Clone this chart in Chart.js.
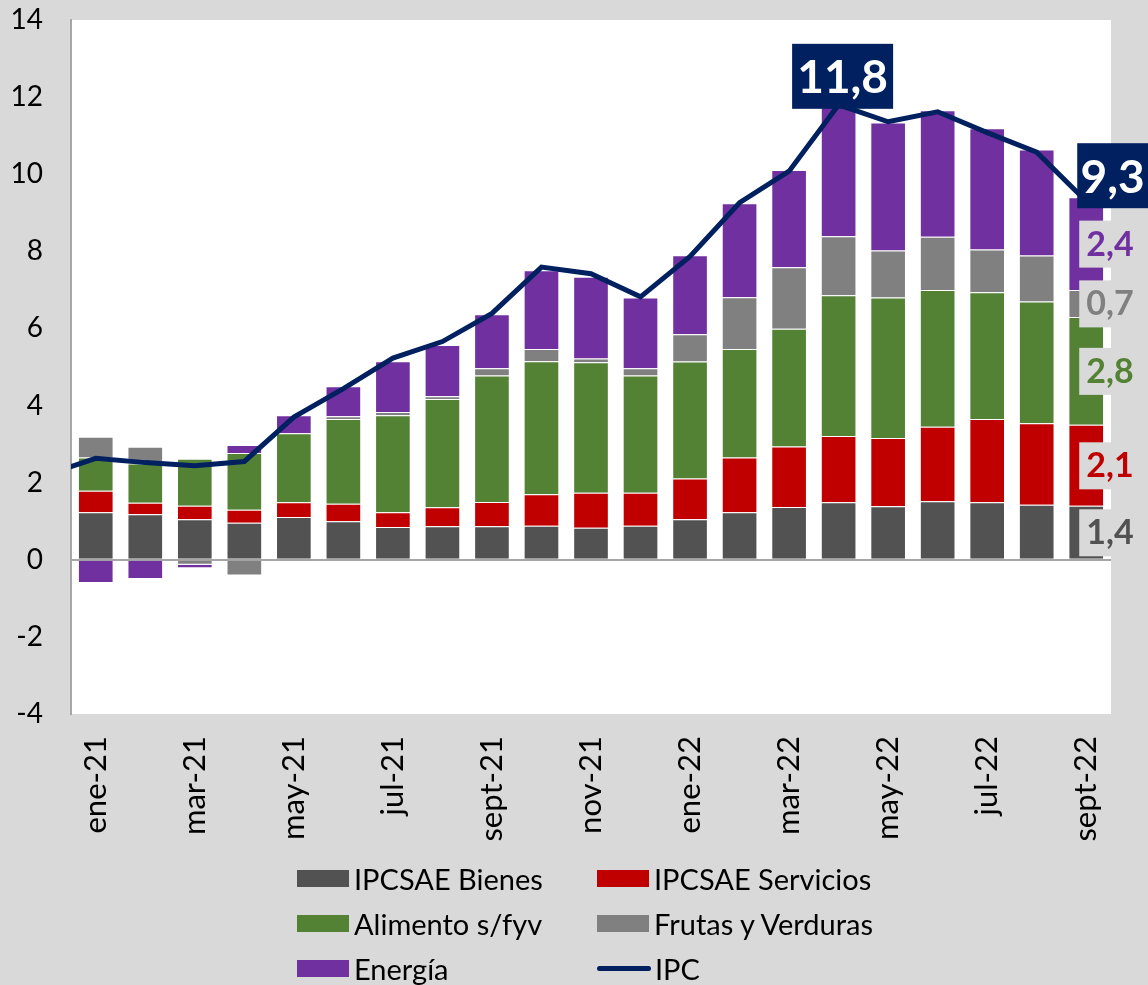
<!DOCTYPE html>
<html>
<head>
<meta charset="utf-8">
<script src="https://cdn.jsdelivr.net/npm/chart.js@4.4.0/dist/chart.umd.min.js"></script>
<style>
  html, body { margin: 0; padding: 0; background: #d9d9d9; }
  #wrap { position: relative; width: 1148px; height: 985px; overflow: hidden; }
  #grafico { position: absolute; left: 0; top: 0; }
  #leyenda {
    position: absolute; left: 297px; top: 856px;
    display: grid; grid-template-columns: 300px 300px; grid-auto-rows: 45px;
    font-family: Lato, "Open Sans", sans-serif; font-size: 29px; color: #000;
  }
  .item { display: flex; align-items: center; white-space: nowrap; }
  .sw { width: 52px; height: 17px; margin-right: 5px; }
  .ln { width: 54px; height: 5px; border-radius: 3px; margin-right: 4px; }
</style>
</head>
<body>
<div id="wrap">
  <canvas id="grafico" width="1148" height="985"></canvas>
  <div id="leyenda"></div>
</div>
<script>
// meses de las barras
const meses = ['ene-21', 'feb-21', 'mar-21', 'abr-21', 'may-21', 'jun-21', 'jul-21', 'ago-21', 'sept-21', 'oct-21', 'nov-21', 'dic-21',
  'ene-22', 'feb-22', 'mar-22', 'abr-22', 'may-22', 'jun-22', 'jul-22', 'ago-22', 'sept-22'];

// incidencias (pp)
const bienes = [1.23, 1.18, 1.05, 0.96, 1.11, 1.00, 0.85, 0.87, 0.87, 0.88, 0.83, 0.88, 1.05, 1.23, 1.37, 1.49, 1.39, 1.52, 1.49, 1.43, 1.4];
const servicios = [0.56, 0.30, 0.35, 0.34, 0.38, 0.45, 0.38, 0.49, 0.63, 0.82, 0.91, 0.86, 1.06, 1.42, 1.57, 1.72, 1.77, 1.93, 2.16, 2.11, 2.1];
const alimentos = [0.86, 1.02, 1.22, 1.47, 1.79, 2.20, 2.52, 2.81, 3.28, 3.45, 3.38, 3.04, 3.03, 2.82, 3.05, 3.65, 3.64, 3.55, 3.29, 3.16, 2.8];
const frutas = [0.54, 0.43, -0.13, -0.41, -0.04, 0.07, 0.08, 0.07, 0.19, 0.32, 0.10, 0.19, 0.71, 1.34, 1.60, 1.53, 1.22, 1.38, 1.11, 1.19, 0.7];
const energia = [-0.60, -0.50, -0.09, 0.21, 0.47, 0.78, 1.32, 1.33, 1.40, 2.04, 2.12, 1.83, 2.05, 2.44, 2.52, 3.41, 3.32, 3.28, 3.14, 2.75, 2.4];

// IPC interanual, empieza en dic-20 (queda justo fuera del borde izquierdo)
const ipcMeses = ['dic-20'].concat(meses);
const ipc = [2.2, 2.63, 2.52, 2.44, 2.55, 3.70, 4.44, 5.23, 5.66, 6.39, 7.59, 7.42, 6.82, 7.87, 9.26, 10.08, 11.8, 11.36, 11.62, 11.08, 10.57, 9.3];

// puntos del IPC con recuadro
const ipcDestacados = ['abr-22', 'sept-22'];

const yTicks = { min: -4, max: 14, paso: 2 };

const fuente = 'Lato, "Open Sans", sans-serif';
const fmt = v => v.toFixed(1).replace('.', ',');

const fondoPlot = {
  id: 'fondoPlot',
  beforeDraw(chart) {
    const a = chart.chartArea;
    const ctx = chart.ctx;
    ctx.save();
    ctx.fillStyle = '#ffffff';
    ctx.fillRect(a.left, a.top, a.right - a.left, a.bottom - a.top);
    ctx.restore();
  }
};

const etiquetas = {
  id: 'etiquetas',
  afterDatasetsDraw(chart) {
    const ctx = chart.ctx;
    ctx.save();
    const ult = meses.length - 1;
    // valores de la ultima barra
    chart.data.datasets.forEach((ds, i) => {
      if (ds.type === 'line') return;
      const el = chart.getDatasetMeta(i).data[ult];
      const yc = (el.y + el.base) / 2;
      ctx.fillStyle = '#d9d9d9';
      ctx.fillRect(el.x - 7, yc - 23, chart.width - el.x + 7, 47);
      ctx.fillStyle = ds.backgroundColor;
      ctx.font = 'bold 34px ' + fuente;
      ctx.textAlign = 'left';
      ctx.textBaseline = 'middle';
      ctx.fillText(fmt(ds.data[ult]), el.x, yc + 1);
    });

    // recuadros del IPC
    const li = chart.data.datasets.findIndex(d => d.type === 'line');
    const meta = chart.getDatasetMeta(li);
    ipcDestacados.forEach(m => {
      const k = ipcMeses.indexOf(m);
      const p = meta.data[k];
      let x0, y0, w, h = 65;
      if (k === ipcMeses.length - 1) {
        x0 = p.x - 9; w = chart.width - x0; y0 = p.y + 7 - h;
      } else {
        w = 101; x0 = p.x + 4 - w / 2; y0 = p.y + 4 - h;
      }
      ctx.fillStyle = '#002060';
      ctx.fillRect(x0, y0, w, h);
      ctx.fillStyle = '#ffffff';
      ctx.font = 'bold 46px ' + fuente;
      ctx.textAlign = 'center';
      ctx.textBaseline = 'middle';
      ctx.fillText(fmt(ipc[k]), x0 + w / 2, y0 + h / 2 + 2);
    });
    ctx.restore();
  }
};

const barra = (label, data, color) => ({
  type: 'bar',
  label: label,
  data: data,
  backgroundColor: color,
  borderColor: 'rgba(255,255,255,0.35)',
  borderWidth: 1,
  grouped: false,
  barPercentage: 0.72,
  categoryPercentage: 1,
  order: 1
});

const ctx = document.getElementById('grafico').getContext('2d');
const grafico = new Chart(ctx, {
  data: {
    labels: meses,
    datasets: [
      barra('IPCSAE Bienes', bienes, '#525252'),
      barra('IPCSAE Servicios', servicios, '#c00000'),
      barra('Alimento s/fyv', alimentos, '#548235'),
      barra('Frutas y Verduras', frutas, '#808080'),
      barra('Energía', energia, '#7030a0'),
      {
        type: 'line',
        label: 'IPC',
        data: ipc.map((v, i) => ({ x: i - 1, y: v })),
        xAxisID: 'xl',
        borderColor: '#002060',
        backgroundColor: '#002060',
        borderWidth: 5,
        pointRadius: 0,
        tension: 0,
        order: 0
      }
    ]
  },
  options: {
    responsive: false,
    animation: false,
    layout: { padding: { top: 20, right: 37, bottom: 0, left: 0 } },
    plugins: {
      legend: { display: false },
      tooltip: { enabled: false }
    },
    scales: {
      x: {
        stacked: true,
        grid: { display: false, drawTicks: false },
        border: { display: false },
        ticks: {
          autoSkip: false,
          minRotation: 90,
          maxRotation: 90,
          padding: 22,
          color: '#000',
          font: { family: fuente, size: 31 },
          callback: (v, i) => (i % 2 === 0 ? meses[i] : '')
        },
        afterFit: s => { s.height = 271; }
      },
      xl: {
        type: 'linear',
        display: false,
        min: -0.5,
        max: meses.length - 0.5
      },
      y: {
        stacked: true,
        min: yTicks.min,
        max: yTicks.max,
        border: { display: true, color: '#a6a6a6', width: 2 },
        grid: {
          drawTicks: false,
          lineWidth: 2,
          color: c => (c.tick && c.tick.value === 0 ? '#a6a6a6' : 'rgba(0,0,0,0)')
        },
        ticks: {
          stepSize: yTicks.paso,
          padding: 28,
          color: '#000',
          font: { family: fuente, size: 28 }
        },
        afterFit: s => {
          s.width = 71;
          s.paddingTop = 0;
          s.paddingBottom = 0;
        }
      }
    }
  },
  plugins: [fondoPlot, etiquetas]
});

// leyenda en dos columnas
const ley = document.getElementById('leyenda');
grafico.data.datasets.forEach(ds => {
  const it = document.createElement('div');
  it.className = 'item';
  const sw = document.createElement('span');
  sw.className = ds.type === 'line' ? 'ln' : 'sw';
  sw.style.background = ds.type === 'line' ? ds.borderColor : ds.backgroundColor;
  it.appendChild(sw);
  it.appendChild(document.createTextNode(ds.label));
  ley.appendChild(it);
});
</script>
</body>
</html>
